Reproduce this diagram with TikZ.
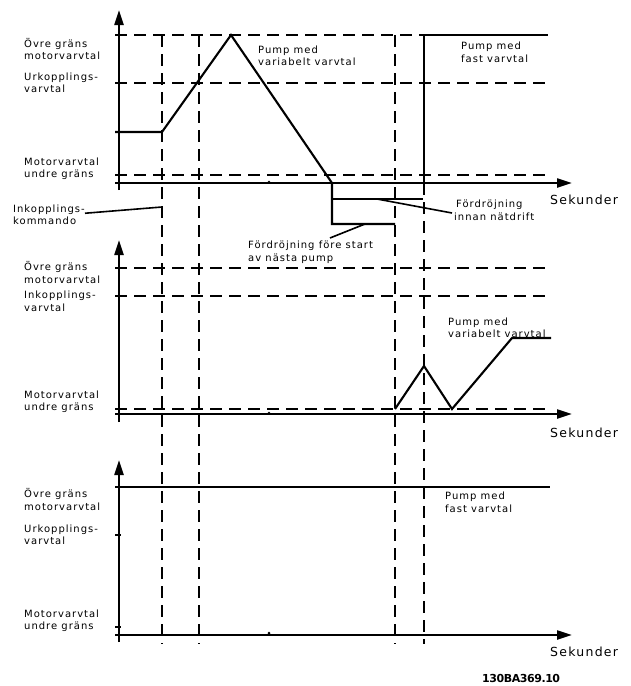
\documentclass[tikz,border=0pt]{standalone}
\usepackage{fontspec}
\setmainfont{DejaVu Sans}[LetterSpace=10]
\newfontfamily\idfont{DejaVu Sans}[LetterSpace=-4]
\usetikzlibrary{arrows.meta}
\tikzset{
  ax/.style={line width=2.2pt},
  axarrow/.style={line width=2.2pt,-{Triangle[length=15pt,width=9pt]}},
  dsh/.style={line width=2pt,dash pattern=on 12pt off 7pt},
  crv/.style={line width=2.1pt},
  lead/.style={line width=1.6pt},
  lbl/.style={anchor=base west,inner sep=0pt,font=\fontsize{10}{12}\selectfont},
  sek/.style={anchor=base west,inner sep=0pt,font=\fontsize{12.5}{14}\selectfont},
  tick/.style={fill=black,circle,inner sep=0pt,minimum size=3pt}
}
\begin{document}
\begin{tikzpicture}[x=1pt,y=-1pt]
\useasboundingbox (0,0) rectangle (631,686);

% ---------- vertical time markers ----------
\draw[dsh] (162,35) -- (162,644);
\draw[dsh] (199,35) -- (199,644);
\draw[dsh] (395,35) -- (395,644);
\draw[crv] (424,183) -- (424,35) -- (548,35);
\draw[dsh] (424,183) -- (424,644);

% ---------- top panel ----------
\draw[dsh] (115,35) -- (424,35);
\draw[dsh] (115,83) -- (548,83);
\draw[dsh] (115,175) -- (548,175);
\draw[axarrow] (119,190) -- (119,10);
\draw[axarrow] (115,183) -- (572,183);
\node[tick] (d1) at (269,182) {};
\draw[crv] (115,132) -- (162,132) -- (231,35) -- (332,183) -- (332,224) -- (395,224);
\draw[crv] (332,199) -- (423,199);

\node[lbl] (t1a) at (24,47) {Övre gräns};
\node[lbl] (t1b) at (24,59) {motorvarvtal};
\node[lbl] (t2a) at (24,80) {Urkopplings-};
\node[lbl] (t2b) at (24,92) {varvtal};
\node[lbl] (t3a) at (24,165) {Motorvarvtal};
\node[lbl] (t3b) at (24,177) {undre gräns};
\node[lbl] (inkA) at (13,212) {Inkopplings-};
\node[lbl] (inkB) at (13,224) {kommando};
\coordinate (inkTip) at (162,207);
\draw[lead] ([yshift=-4pt]inkA.east) -- (inkTip);

\node[lbl] (pv1a) at (258,53) {Pump med};
\node[lbl] (pv1b) at (258,65) {variabelt varvtal};
\node[lbl] (pf1a) at (461,49) {Pump med};
\node[lbl] (pf1b) at (461,62) {fast varvtal};
\node[sek] (s1) at (550,204) {Sekunder};

\node[lbl] (fdA) at (456,207) {Fördröjning};
\node[lbl] (fdB) at (454,220) {innan nätdrift};
\coordinate (fdS) at (377,199);
\coordinate (fdE) at (452,213);
\draw[lead] (fdS) -- (fdE);

\node[lbl] (fsA) at (248,248) {Fördröjning före start};
\node[lbl] (fsB) at (248,261) {av nästa pump};
\coordinate (fsS) at (365,224);
\coordinate (fsE) at (330,238);
\draw[lead] (fsS) -- (fsE);

% ---------- middle panel ----------
\draw[dsh] (115,268) -- (548,268);
\draw[dsh] (115,296) -- (548,296);
\draw[dsh] (115,409) -- (548,409);
\draw[axarrow] (119,422) -- (119,240);
\draw[axarrow] (115,414) -- (572,414);
\node[tick] (d2) at (269,413) {};
\draw[crv] (395,409) -- (424,366) -- (452,409) -- (512,338) -- (551,338);

\node[lbl] (m1a) at (24,270) {Övre gräns};
\node[lbl] (m1b) at (24,283) {motorvarvtal};
\node[lbl] (m2a) at (24,298) {Inkopplings-};
\node[lbl] (m2b) at (24,311) {varvtal};
\node[lbl] (m3a) at (24,398) {Motorvarvtal};
\node[lbl] (m3b) at (24,410) {undre gräns};
\node[lbl] (pv2a) at (448,325) {Pump med};
\node[lbl] (pv2b) at (448,337) {variabelt varvtal};
\node[sek] (s2) at (550,437) {Sekunder};

% ---------- bottom panel ----------
\draw[crv] (115,487) -- (550,487);
\draw[ax] (115,535) -- (121,535);
\draw[ax] (115,627) -- (121,627);
\draw[axarrow] (119,642) -- (119,460);
\draw[axarrow] (115,635) -- (572,635);
\node[tick] (d3) at (269,633) {};

\node[lbl] (b1a) at (24,497) {Övre gräns};
\node[lbl] (b1b) at (24,510) {motorvarvtal};
\node[lbl] (b2a) at (24,532) {Urkopplings-};
\node[lbl] (b2b) at (24,544) {varvtal};
\node[lbl] (b3a) at (24,617) {Motorvarvtal};
\node[lbl] (b3b) at (24,629) {undre gräns};
\node[lbl] (pf2a) at (445,499) {Pump med};
\node[lbl] (pf2b) at (445,512) {fast varvtal};
\node[sek] (s3) at (550,656) {Sekunder};

\node[anchor=base west,inner sep=0pt,font=\idfont\bfseries\fontsize{11}{13}\selectfont] (id) at (482,682) {130BA369.10};
\end{tikzpicture}
\end{document}
